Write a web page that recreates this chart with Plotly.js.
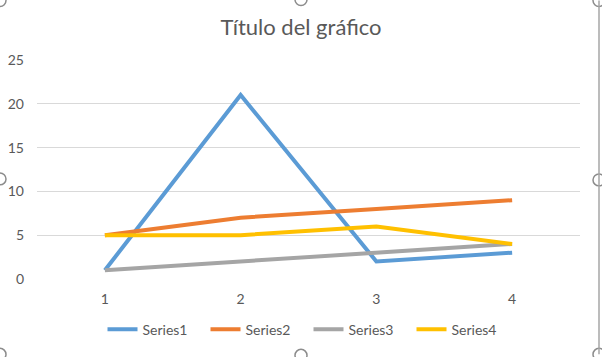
<!DOCTYPE html>
<html><head><meta charset="utf-8">
<script src="https://cdn.plot.ly/plotly-3.0.1.min.js"></script>
<style>html,body{margin:0;padding:0;background:#fff;}#chart{width:602px;height:357px;}</style>
</head><body><div id="chart"></div>
<script>
const categories = [1, 2, 3, 4];
const series1 = [1, 21, 2, 3];
const series2 = [5, 7, 8, 9];
const series3 = [1, 2, 3, 4];
const series4 = [5, 5, 6, 4];
const seriesNames = ['Series1', 'Series2', 'Series3', 'Series4'];
const colors = ['#5B9BD5', '#ED7D31', '#A5A5A5', '#FFC000'];
const allSeries = [series1, series2, series3, series4];

const traces = allSeries.map((s, i) => ({
  x: categories, y: s, type: 'scatter', mode: 'lines', name: seriesNames[i],
  line: {color: colors[i], width: 4}
}));

const L = 37, R = 22, T = 60, B = 76, W = 602, H = 357;
const pw = W - L - R, ph = H - T - B;
const px = x => (x - L) / pw;
const py = y => (H - B - y) / ph;
const handles = [[0,0],[301,-1],[599,0],[0,180],[599,181],[0,357],[301,358],[599,357]];
const shapes = handles.map(([hx, hy]) => ({
  type: 'circle', xref: 'paper', yref: 'paper',
  x0: px(hx - 6), x1: px(hx + 6), y0: py(hy + 6), y1: py(hy - 6),
  line: {color: '#8c8c8c', width: 1.5}, fillcolor: 'rgba(255,255,255,0)'
}));
shapes.push({type: 'line', xref: 'paper', yref: 'paper', x0: px(599), x1: px(599), y0: py(0), y1: py(357), line: {color: '#a6a6a6', width: 1.5}});

const FF = 'Lato, "Open Sans", sans-serif';
const layout = {
  width: W, height: H,
  margin: {l: L, r: R, t: T, b: B, pad: 0},
  paper_bgcolor: '#ffffff', plot_bgcolor: '#ffffff',
  font: {family: FF, color: '#595959', size: 14},
  title: {text: 'Título del gráfico', font: {size: 22, color: '#595959', family: FF}, x: 0.5, xanchor: 'center', y: 1 - 27/H, yanchor: 'middle', yref: 'container'},
  xaxis: {range: [0.5, 4.5], tickvals: categories, ticktext: categories.map(String), showgrid: false, zeroline: false, showline: false, ticks: '', ticklen: 0, ticklabelstandoff: 10, tickfont: {size: 14, color: '#595959', family: FF}, fixedrange: true},
  yaxis: {range: [0, 25], dtick: 5, showgrid: true, gridcolor: '#d9d9d9', gridwidth: 1, zeroline: false, showline: false, ticks: '', tickfont: {size: 14, color: '#595959', family: FF}, ticklabelstandoff: 12, fixedrange: true},
  legend: {orientation: 'h', x: 0.5, xanchor: 'center', y: py(332), yanchor: 'middle', font: {size: 14, color: '#595959', family: FF}, itemwidth: 30, tracegroupgap: 0, entrywidth: 58, entrywidthmode: 'pixels'},
  showlegend: true,
  shapes: shapes
};
Plotly.newPlot('chart', traces, layout, {displayModeBar: false, staticPlot: true});
</script></body></html>
